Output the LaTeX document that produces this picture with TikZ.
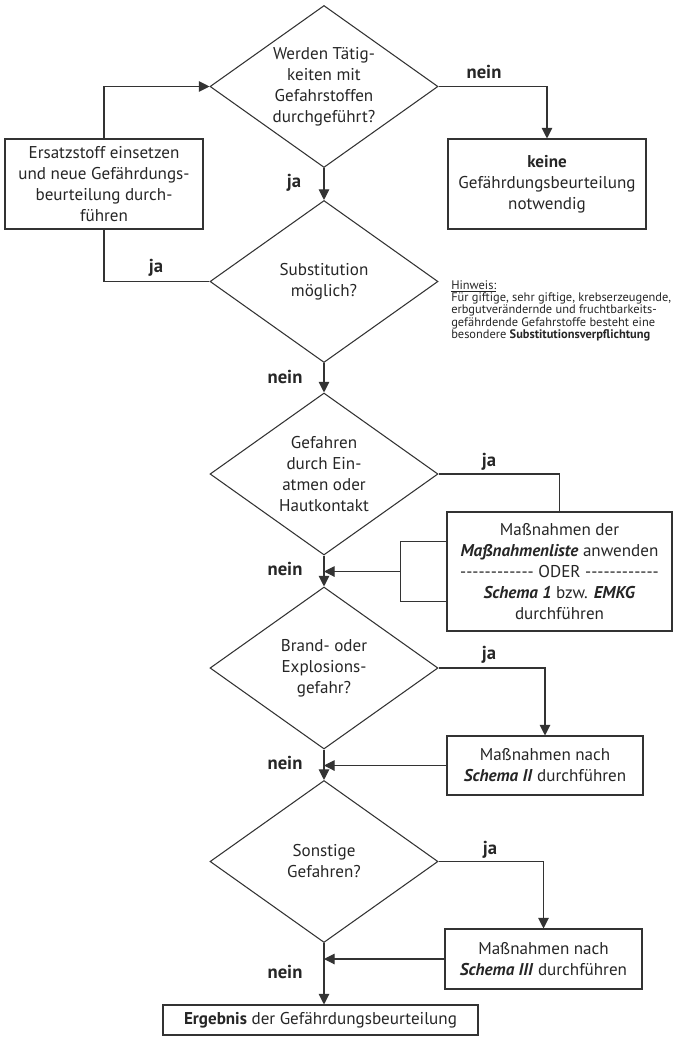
\documentclass[tikz,border=0pt]{standalone}
\usepackage{fontspec}
\setmainfont{PT Sans}
\usetikzlibrary{
  arrows.meta,
  positioning,
  shapes.geometric
}

\begin{document}
\begin{tikzpicture}[
        x=0.75pt, y=-0.75pt,
        >={Triangle[length=8pt,width=8pt]},
        every node/.style={text=black!85, font=\fontsize{12.8}{15.75}\selectfont},
        frage/.style={diamond, draw=black!80, line width=0.8pt, aspect=1.4, inner sep=0pt, minimum width=171pt, minimum height=121.5pt, align=center},
        kasten/.style={rectangle, draw=black!80, line width=0.8pt, align=center, inner sep=2pt},
        antwort/.style={font=\fontsize{14}{16}\selectfont\bfseries},
        linie/.style={draw=black!80, line width=0.8pt},
        pfeil/.style={linie, ->}
    ]
        \useasboundingbox (0,0) rectangle (686,1039);
        % Fragen (Rauten)
        \node[frage] (taetig) at (324,86.5) {Werden Tätig-\\keiten mit\\Gefahrstoffen\\durchgeführt?};
        \node[frage] (subst) at (324,281.5) {Substitution\\möglich?};
        \node[frage] (einatmen) at (324,474) {Gefahren\\durch Ein-\\atmen oder\\Hautkontakt};
        \node[frage] (brand) at (324,668) {Brand- oder\\Explosions-\\gefahr?};
        \node[frage] (sonstig) at (324,861.5) {Sonstige\\Gefahren?};
        % Kaesten
        \node[kasten, minimum width=148.5pt, minimum height=67.5pt] (ersatz) at (104,184) {Ersatzstoff einsetzen\\und neue Gefährdungs-\\beurteilung durch-\\führen};
        \node[kasten, minimum width=148.5pt, minimum height=67.5pt] (keine) at (547,184) {\textbf{keine}\\Gefährdungsbeurteilung\\notwendig};
        \node[kasten, minimum width=168.75pt, minimum height=89.25pt] (liste) at (559.5,571.5) {Maßnahmen der\\\textbf{\textit{Maßnahmenliste}} anwenden\\-{}-{}-{}-{}-{}-{}-{}-{}-{}-{}-{}- ODER -{}-{}-{}-{}-{}-{}-{}-{}-{}-{}-{}-\\\textbf{\textit{Schema 1}} bzw. \textbf{\textit{EMKG}}\\durchführen};
        \node[kasten, minimum width=147pt, minimum height=44.25pt] (schemazwei) at (545,765.5) {Maßnahmen nach\\\textbf{\textit{Schema II}} durchführen};
        \node[kasten, minimum width=147.75pt, minimum height=45pt] (schemadrei) at (543.5,959) {Maßnahmen nach\\\textbf{\textit{Schema III}} durchführen};
        \node[kasten, minimum width=236.25pt, minimum height=22.5pt] (ergebnis) at (320.5,1020) {\textbf{Ergebnis} der Gefährdungsbeurteilung};
        % Hinweis
        \node[anchor=north west, align=left, inner sep=0pt, font=\fontsize{9.3}{9.3}\selectfont] (hinweis) at (451,280) {\underline{Hinweis:}\\Für giftige, sehr giftige, krebserzeugende,\\erbgutverändernde und fruchtbarkeits-\\gefährdende Gefahrstoffe besteht eine\\besondere \textbf{Substitutionsverpflichtung}};
        % ja / nein
        \node[antwort] (nein1) at (484,72) {nein};
        \node[antwort] (ja1) at (294,183) {ja};
        \node[antwort] (ja2) at (156,268) {ja};
        \node[antwort] (nein2) at (285,377) {nein};
        \node[antwort] (ja3) at (489,462) {ja};
        \node[antwort] (nein3) at (285,569) {nein};
        \node[antwort] (ja4) at (489,655) {ja};
        \node[antwort] (nein4) at (285,763) {nein};
        \node[antwort] (ja5) at (490,850) {ja};
        \node[antwort] (nein5) at (285,972) {nein};
        % Verbindungen
        \draw[pfeil] (ersatz.north) |- (taetig.west);
        \draw[pfeil] (taetig.east) -| (keine.north);
        \draw[pfeil] (taetig.south) -- (subst.north);
        \draw[linie] (subst.west) -| (ersatz.south);
        \draw[pfeil] (subst.south) -- (einatmen.north);
        \draw[linie] (einatmen.east) -| (liste.north);
        \draw[linie] ([yshift=22.5pt]liste.west) -- ++(-34.5pt,0) coordinate (klammer) -- ++(0,-45pt) -- ([yshift=-22.5pt]liste.west);
        \draw[pfeil] (klammer |- liste.west) -- (einatmen.south |- liste.west);
        \draw[pfeil] (einatmen.south) -- (brand.north);
        \draw[pfeil] (brand.east) -| (schemazwei.north);
        \draw[pfeil] (schemazwei.west) -- (brand.south |- schemazwei.west);
        \draw[pfeil] (brand.south) -- (sonstig.north);
        \draw[pfeil] (sonstig.east) -| (schemadrei.north);
        \draw[pfeil] (schemadrei.west) -- (sonstig.south |- schemadrei.west);
        \draw[pfeil] (sonstig.south) -- (sonstig.south |- ergebnis.north);
    \end{tikzpicture}
\end{document}
